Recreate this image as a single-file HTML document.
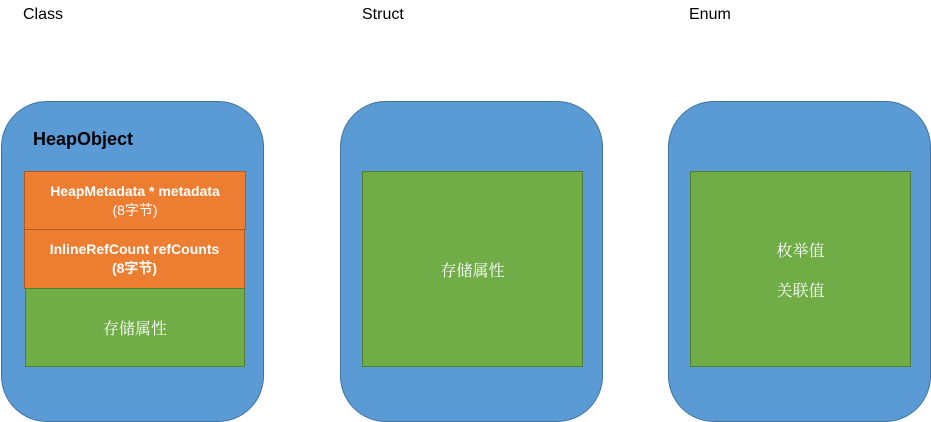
<!DOCTYPE html>
<html><head><meta charset="utf-8"><style>
body{margin:0;width:931px;height:422px;background:#fff;position:relative;overflow:hidden;font-family:"Liberation Sans","Noto Sans CJK SC",sans-serif}
.t{position:absolute;font-size:16px;color:#000}
.c{position:absolute;top:101px;width:261px;height:319px;background:#5b9bd5;border:1px solid #41719c;border-radius:46px}
.g{position:absolute;background:#70ad47;border:1px solid #507e32;box-sizing:border-box;color:#fff;font-family:"Liberation Serif","Noto Serif CJK SC",serif;font-size:16px;display:flex;flex-direction:column;align-items:center;justify-content:center}
.o{position:absolute;background:#ed7d31;border:1px solid #ae5a21;box-sizing:border-box;color:#fff;font-weight:bold;font-size:14px;text-align:center;line-height:19px;display:flex;flex-direction:column;justify-content:center}
</style></head><body>
<div class="t" style="left:23px;top:6px">Class</div>
<div class="t" style="left:362px;top:6px">Struct</div>
<div class="t" style="left:689px;top:6px">Enum</div>
<div class="c" style="left:1px"></div>
<div class="c" style="left:340px"></div>
<div class="c" style="left:668px"></div>
<div class="t" style="left:33px;top:129px;font-weight:bold;font-size:18px">HeapObject</div>
<div class="o" style="left:24px;top:171px;width:222px;height:59px"><div>HeapMetadata * metadata</div><div style="font-weight:normal">(8字节)</div></div>
<div class="o" style="left:24px;top:229px;width:221px;height:60px"><div>InlineRefCount refCounts</div><div>(8字节)</div></div>
<div class="g" style="left:25px;top:288px;width:220px;height:79px">存储属性</div>
<div class="g" style="left:362px;top:171px;width:221px;height:196px">存储属性</div>
<div class="g" style="left:690px;top:171px;width:221px;height:196px"><div style="margin-bottom:17px">枚举值</div><div>关联值</div></div>
</body></html>
